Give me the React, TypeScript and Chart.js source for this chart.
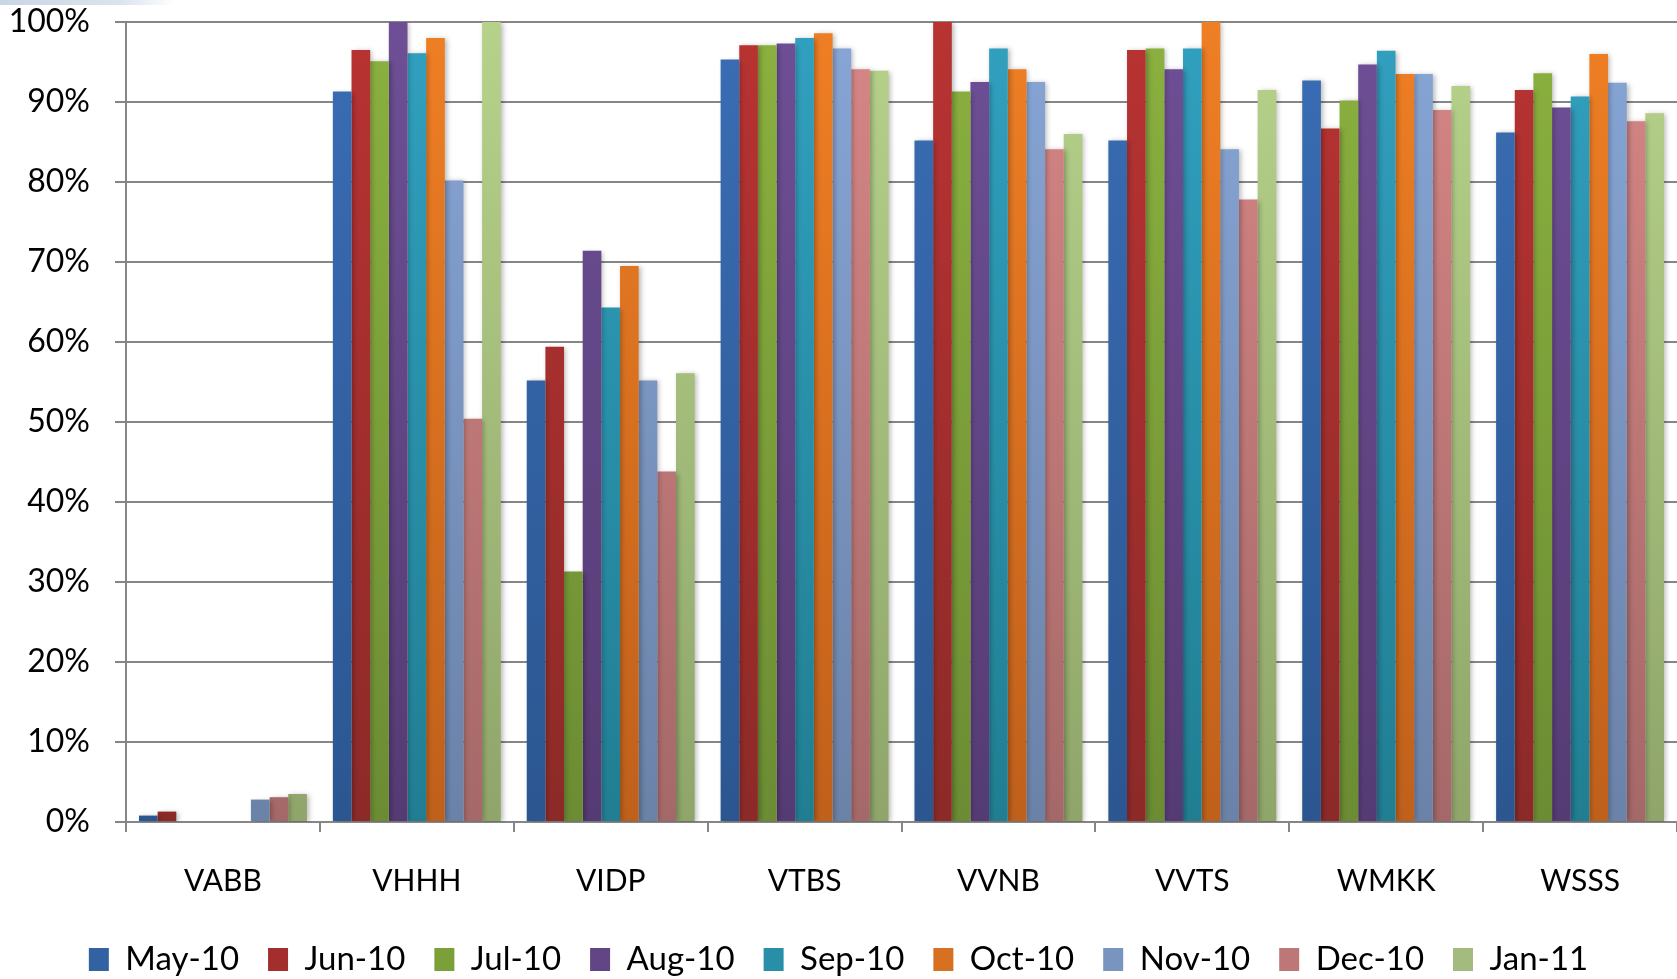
import { useEffect, useRef } from "react";
import { Chart, registerables } from "chart.js";

Chart.register(...registerables);

// Airports (ICAO codes) along the category axis
const airports = ["VABB", "VHHH", "VIDP", "VTBS", "VVNB", "VVTS", "WMKK", "WSSS"];

// Monthly series, percentage per airport
const months = ["May-10", "Jun-10", "Jul-10", "Aug-10", "Sep-10", "Oct-10", "Nov-10", "Dec-10", "Jan-11"];
const may10 = [0.8, 91.3, 55.2, 95.3, 85.2, 85.2, 92.7, 86.2];
const jun10 = [1.3, 96.5, 59.4, 97.1, 100, 96.5, 86.7, 91.5];
const jul10 = [null, 95.1, 31.3, 97.1, 91.3, 96.7, 90.2, 93.6];
const aug10 = [null, 100, 71.4, 97.3, 92.5, 94.1, 94.7, 89.3];
const sep10 = [null, 96.1, 64.3, 98.0, 96.7, 96.7, 96.4, 90.7];
const oct10 = [null, 98.0, 69.5, 98.6, 94.1, 100, 93.5, 96.0];
const nov10 = [2.8, 80.2, 55.2, 96.7, 92.5, 84.1, 93.5, 92.4];
const dec10 = [3.1, 50.4, 43.8, 94.1, 84.1, 77.8, 89.0, 87.6];
const jan11 = [3.5, 100, 56.1, 93.9, 86.0, 91.5, 92.0, 88.6];

// Y axis range and step (percent)
const yMin = 0;
const yMax = 100;
const yStep = 10;

// Light (top) and dark (bottom) shade for each month's bars
const shadeTop = ["#3a6db5", "#b83332", "#8bb13f", "#6e4f96", "#31a0bf", "#ef7f24", "#87a6d6", "#d78686", "#b6d28a"];
const shadeBottom = ["#2b5690", "#8c2a28", "#6b8c33", "#553b73", "#217e92", "#bf601b", "#6b82a8", "#a56868", "#8fa56a"];
const shadeMid = ["#3362a3", "#a22e2d", "#7b9f39", "#614584", "#298fa9", "#d77020", "#7994bf", "#be7777", "#a3bb7e"];

const seriesValues = [may10, jun10, jul10, aug10, sep10, oct10, nov10, dec10, jan11];

const FONT = "Lato, 'Open Sans', 'Liberation Sans', sans-serif";
const AXIS_GRAY = "#868686";

const LEGEND_FONT = 33;
const LEGEND_GAP = 29;

// Soft drop shadow behind the bars
const barShadow = {
  id: "barShadow",
  beforeDatasetsDraw(chart: any) {
    const ctx = chart.ctx;
    ctx.save();
    ctx.shadowColor = "rgba(0,0,0,0.28)";
    ctx.shadowBlur = 5;
    ctx.shadowOffsetX = 2;
    ctx.shadowOffsetY = 1;
  },
  afterDatasetsDraw(chart: any) {
    chart.ctx.restore();
  },
};

export default function App() {
  const canvasRef = useRef<HTMLCanvasElement | null>(null);

  useEffect(() => {
    document.body.style.margin = "0";
    document.body.style.overflow = "hidden";
    const canvas = canvasRef.current;
    if (!canvas) return;

    const datasets = months.map((label, i) => ({
      label,
      data: seriesValues[i],
      backgroundColor: (c: any) => {
        const area = c.chart.chartArea;
        if (!area) return shadeMid[i];
        const g = c.chart.ctx.createLinearGradient(0, area.top, 0, area.bottom);
        g.addColorStop(0, shadeTop[i]);
        g.addColorStop(1, shadeBottom[i]);
        return g;
      },
      borderWidth: 0,
      barPercentage: 1.0,
      categoryPercentage: 0.866,
    }));

    const chart = new Chart(canvas, {
      type: "bar",
      data: { labels: airports, datasets },
      plugins: [barShadow],
      options: {
        animation: false,
        responsive: false,
        devicePixelRatio: 1,
        layout: { padding: { top: 22, right: 0, bottom: 0, left: 0 } },
        plugins: {
          tooltip: { enabled: false },
          legend: {
            position: "bottom",
            labels: {
              color: "#000",
              font: { family: FONT, size: LEGEND_FONT },
              boxWidth: 20,
              boxHeight: 23,
              padding: LEGEND_GAP,
              generateLabels: (ch: any) =>
                ch.data.datasets.map((ds: any, i: number) => ({
                  text: ds.label,
                  fillStyle: shadeMid[i],
                  strokeStyle: shadeMid[i],
                  lineWidth: 0,
                  hidden: false,
                  datasetIndex: i,
                })),
            },
          },
        },
        scales: {
          x: {
            afterFit: (s: any) => {
              s.height = 92;
            },
            grid: {
              display: true,
              drawOnChartArea: false,
              drawTicks: true,
              offset: true,
              tickLength: 10,
              color: AXIS_GRAY,
              lineWidth: 2,
            },
            border: { display: true, color: AXIS_GRAY, width: 2 },
            ticks: {
              color: "#000",
              padding: 31,
              font: { family: FONT, size: 30 },
              maxRotation: 0,
            },
          },
          y: {
            min: yMin,
            max: yMax,
            afterFit: (s: any) => {
              s.width = 126;
              s.paddingTop = 0;
              s.paddingBottom = 0;
            },
            grid: {
              color: AXIS_GRAY,
              lineWidth: 2,
              tickLength: 11,
              drawTicks: true,
            },
            border: { display: true, color: AXIS_GRAY, width: 2 },
            ticks: {
              stepSize: yStep,
              color: "#000",
              padding: 25,
              font: { family: FONT, size: 32 },
              callback: (v: any) => `${v}%`,
            },
          },
        },
      },
    });

    return () => chart.destroy();
  }, []);

  return (
    <div
      style={{
        position: "fixed",
        left: 0,
        top: 0,
        width: 1677,
        height: 979,
        overflow: "hidden",
        background: "#fff",
      }}
    >
      <canvas ref={canvasRef} width={1677} height={986} style={{ display: "block" }} />
      <div
        style={{
          position: "absolute",
          left: 0,
          top: 0,
          width: 175,
          height: 5,
          background: "linear-gradient(to right, #c9d6e3, #dbe4ee 70%, rgba(255,255,255,0))",
        }}
      />
    </div>
  );
}
